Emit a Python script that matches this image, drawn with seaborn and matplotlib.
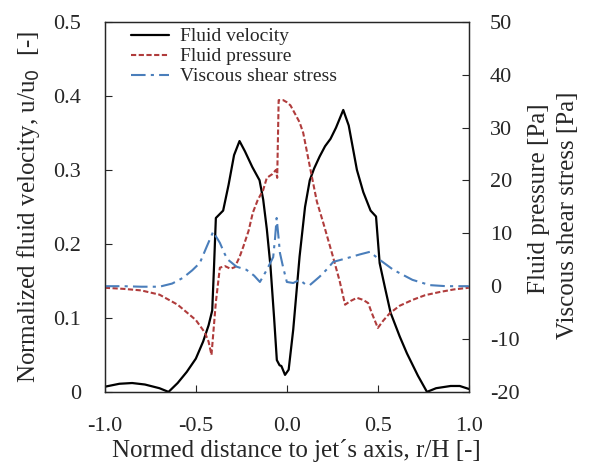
# Jet impingement profiles: velocity (left axis), pressure and shear (right axis)
import pandas as pd
import seaborn as sns
import matplotlib.pyplot as plt

sns.set_style('ticks')
plt.rcParams['font.family'] = ['Liberation Serif', 'DejaVu Serif']
plt.rcParams['axes.unicode_minus'] = False

# data
r_vel = [-1.0, -0.92, -0.85, -0.78, -0.7, -0.65, -0.6, -0.55, -0.5, -0.46, -0.43,
         -0.41, -0.40, -0.39, -0.37, -0.35, -0.32, -0.29, -0.26, -0.23, -0.19, -0.15,
         -0.13, -0.11, -0.09, -0.07, -0.055, -0.04, -0.03, -0.01, 0.01, 0.035, 0.07,
         0.1, 0.126, 0.15, 0.18, 0.21, 0.24, 0.27, 0.31, 0.34, 0.385, 0.42, 0.46,
         0.49, 0.51, 0.54, 0.57, 0.62, 0.66, 0.72, 0.77, 0.82, 0.9, 0.95, 1.0]
velocity = [0.007, 0.011, 0.012, 0.010, 0.005, 0.0, 0.012, 0.027, 0.045, 0.068, 0.09,
            0.11, 0.17, 0.235, 0.24, 0.245, 0.28, 0.32, 0.339, 0.325, 0.304, 0.286,
            0.26, 0.22, 0.17, 0.10, 0.043, 0.036, 0.035, 0.023, 0.03, 0.084, 0.183,
            0.25, 0.286, 0.302, 0.318, 0.332, 0.342, 0.357, 0.381, 0.36, 0.30, 0.27, 0.245,
            0.237, 0.174, 0.14, 0.107, 0.075, 0.052, 0.022, 0.0, 0.005, 0.008, 0.008, 0.004]

r_pres = [-1.0, -0.9, -0.8, -0.7, -0.6, -0.5, -0.45, -0.43, -0.414, -0.39, -0.368,
          -0.34, -0.31, -0.286, -0.26, -0.24, -0.21, -0.187, -0.16, -0.13, -0.11,
          -0.08, -0.06, -0.053, -0.045, -0.02, 0.0, 0.02, 0.05, 0.07, 0.09, 0.11,
          0.13, 0.165, 0.2, 0.25, 0.29, 0.32, 0.35, 0.385, 0.42, 0.447, 0.467, 0.5,
          0.53, 0.566, 0.62, 0.69, 0.76, 0.84, 0.92, 1.0]
pressure = [-0.3, -0.5, -0.8, -1.6, -3.5, -6.4, -8.8, -10.5, -13, -3, 3.5,
            3.8, 3.3, 3.6, 5.5, 7.4, 10.5, 13.9, 16.3, 18.2, 20.5,
            21.2, 22, 20.5, 35.2, 35.2, 34.8, 34.2, 32.3, 31, 29, 25.5,
            22, 16, 12, 6, 1, -3.5, -2.8, -2.2, -2.6, -3.2, -5.1, -7.9,
            -6.5, -5.1, -3.7, -2.6, -1.7, -1.1, -0.6, -0.3]

r_shear = [-1.0, -0.9, -0.8, -0.7, -0.63, -0.57, -0.52, -0.478, -0.44, -0.405,
           -0.368, -0.34, -0.323, -0.277, -0.222, -0.18, -0.148, -0.11, -0.075,
           -0.065, -0.056, -0.045, -0.038, -0.02, 0.0, 0.035, 0.07, 0.1, 0.126,
           0.18, 0.22, 0.255, 0.33, 0.40, 0.456, 0.51, 0.585, 0.69, 0.786, 0.877, 1.0]
shear = [0.0, 0.0, -0.1, -0.1, 0.5, 1.6, 3.0, 4.4, 7.5, 10.3,
         8.2, 6, 5, 3.7, 3.1, 2, 0.8, 3.1, 5.5,
         9, 12.9, 9, 6.3, 3.5, 0.8, 0.6, 1.2, 0.4, 0.2,
         1.8, 3.2, 4.6, 5.3, 6.0, 6.5, 5.0, 3.1, 1.2, 0.2, 0.0, 0.0]

df_vel = pd.DataFrame({'r': r_vel, 'val': velocity})
df_pres = pd.DataFrame({'r': r_pres, 'val': pressure})
df_shear = pd.DataFrame({'r': r_shear, 'val': shear})

fig = plt.figure(figsize=(5.89, 4.66), dpi=100)
ax = fig.add_axes([0.178, 0.159, 0.618, 0.794])
ax2 = ax.twinx()

sns.lineplot(ax=ax, data=df_vel, x='r', y='val', color='black', lw=1.6,
             label='Fluid velocity', legend=False)
sns.lineplot(ax=ax2, data=df_pres, x='r', y='val', color='#B03C3C', lw=1.5,
             label='Fluid pressure', legend=False)
sns.lineplot(ax=ax2, data=df_shear, x='r', y='val', color='#4A7EBB', lw=1.5,
             label='Viscous shear stress', legend=False)
ax2.lines[0].set_linestyle((0, (2.5, 1.2)))
ax2.lines[1].set_linestyle((0, (7, 2.5, 1.5, 2.5)))

ax.set_xlim(-1, 1)
ax.set_ylim(0, 0.5)
ax2.set_ylim(-20, 50)
ax.set_xticks([-1.0, -0.5, 0.0, 0.5, 1.0])
ax.set_xticklabels(['-1.0', '-0.5', '0.0', '0.5', '1.0'])
ax.set_yticks([0, 0.1, 0.2, 0.3, 0.4, 0.5])
ax.set_yticklabels(['0', '0.1', '0.2', '0.3', '0.4', '0.5'])
ax2.set_yticks(range(-20, 51, 10))

for a in (ax, ax2):
    a.tick_params(direction='in', length=5, width=0.8, labelsize=16)
    for s in a.spines.values():
        s.set_linewidth(0.9)
        s.set_visible(True)
ax.tick_params(axis='y', pad=17)
ax.tick_params(axis='x', pad=18)
ax2.tick_params(axis='y', pad=15)

ax.set_xlabel('Normed distance to jet\u00b4s axis, r/H [-]', fontsize=18)
ax.xaxis.set_label_coords(0.525, -0.128)
ax.set_ylabel('Normalized fluid velocity, u/u$_0$  [-]', fontsize=18, labelpad=8)
ax2.set_ylabel('')

# right axis label: two separate lines as in the original
fig.text(539 / 589, 1 - 199 / 466, 'Fluid pressure [Pa]', rotation=90,
         fontsize=18, ha='center', va='center')
fig.text(568 / 589, 1 - 215 / 466, 'Viscous shear stress [Pa]', rotation=90,
         fontsize=18, ha='center', va='center')

handles = ax.get_lines()[:1] + ax2.get_lines()[:2]
labels = ['Fluid velocity', 'Fluid pressure', 'Viscous shear stress']
ax.legend(handles, labels, loc='upper left', frameon=False, fontsize=14,
          handlelength=1.95, handletextpad=0.6, borderaxespad=0.0,
          labelspacing=0.12, bbox_to_anchor=(0.05, 1.005))

fig.savefig('out.png', dpi=100)
